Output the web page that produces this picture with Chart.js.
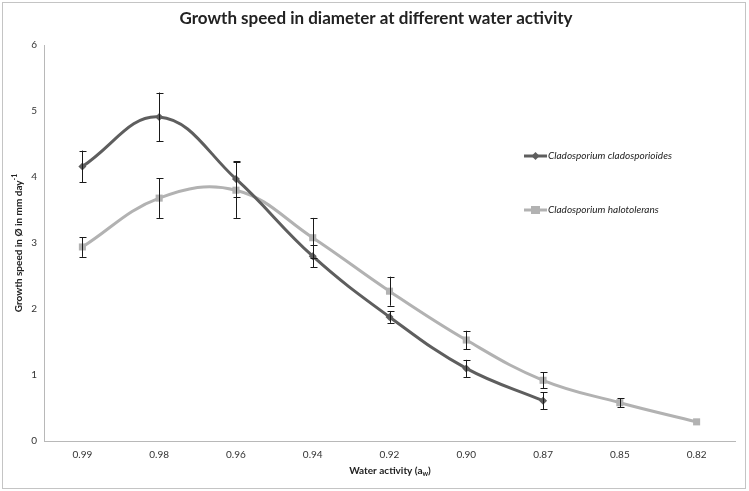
<!DOCTYPE html>
<html>
<head>
<meta charset="utf-8">
<script src="https://cdn.jsdelivr.net/npm/chart.js@4"></script>
<style>
  html, body { margin: 0; padding: 0; background: #fff; }
  #wrap { width: 749px; height: 491px; position: relative; }
</style>
</head>
<body>
<div id="wrap"><canvas id="growthChart" width="749" height="491"></canvas></div>
<script>
// categorie (attivita dell'acqua)
const waterActivity = ['0.99', '0.98', '0.96', '0.94', '0.92', '0.90', '0.87', '0.85', '0.82'];

// Cladosporium cladosporioides
const cladoValues = [4.16, 4.91, 3.97, 2.80, 1.88, 1.10, 0.61, null, null];
const cladoErrors = [0.24, 0.37, 0.27, 0.17, 0.09, 0.13, 0.13, null, null];

// Cladosporium halotolerans
const haloValues = [2.94, 3.68, 3.80, 3.08, 2.27, 1.53, 0.92, 0.58, 0.29];
const haloErrors = [0.15, 0.30, 0.42, 0.30, 0.22, 0.14, 0.12, 0.07, null];

const yTicks = [0, 1, 2, 3, 4, 5, 6];

const darkGrey = '#5e5e5e';
const lightGrey = '#b2b2b2';
const fontFam = 'Lato, "Open Sans", sans-serif';

// barre di errore disegnate con le scale del grafico
const errorBarPlugin = {
    id: 'errorBars',
    afterDatasetsDraw(chart) {
        const ctx = chart.ctx;
        const x = chart.scales.x;
        const y = chart.scales.y;
        const sets = [[cladoValues, cladoErrors], [haloValues, haloErrors]];
        ctx.save();
        ctx.strokeStyle = '#1a1a1a';
        ctx.lineWidth = 1;
        sets.forEach(function(s) {
            s[0].forEach(function(v, i) {
                const e = s[1][i];
                if (v === null || e === null) return;
                const px = Math.round(x.getPixelForValue(i)) + 0.5;
                const top = y.getPixelForValue(v + e);
                const bot = y.getPixelForValue(v - e);
                ctx.beginPath();
                ctx.moveTo(px, top); ctx.lineTo(px, bot);
                ctx.moveTo(px - 3, Math.round(top) + 0.5); ctx.lineTo(px + 4, Math.round(top) + 0.5);
                ctx.moveTo(px - 3, Math.round(bot) + 0.5); ctx.lineTo(px + 4, Math.round(bot) + 0.5);
                ctx.stroke();
            });
        });
        ctx.restore();
    }
};

// titolo, titoli degli assi, legenda e bordo
const decorPlugin = {
    id: 'decor',
    afterDraw(chart) {
        const ctx = chart.ctx;
        ctx.save();
        // bordo esterno
        ctx.strokeStyle = '#c4c4c4';
        ctx.lineWidth = 1;
        ctx.strokeRect(2.5, 2.5, 743, 486);

        // titolo
        ctx.fillStyle = '#222';
        ctx.font = 'bold 17px ' + fontFam;
        ctx.textAlign = 'center';
        ctx.textBaseline = 'middle';
        ctx.fillText('Growth speed in diameter at different water activity', 376, 19);

        // titolo asse x con pedice
        ctx.font = 'bold 10px ' + fontFam;
        ctx.textAlign = 'left';
        const t1 = 'Water activity (a';
        const w1 = ctx.measureText(t1).width;
        ctx.font = 'bold 7px ' + fontFam;
        const w2 = ctx.measureText('w').width;
        ctx.font = 'bold 10px ' + fontFam;
        const w3 = ctx.measureText(')').width;
        let sx = 390 - (w1 + w2 + w3) / 2;
        ctx.fillText(t1, sx, 471);
        ctx.font = 'bold 7px ' + fontFam;
        ctx.fillText('w', sx + w1, 474);
        ctx.font = 'bold 10px ' + fontFam;
        ctx.fillText(')', sx + w1 + w2, 471);

        // titolo asse y con apice
        ctx.translate(19, 243);
        ctx.rotate(-Math.PI / 2);
        const s1 = 'Growth speed in \u00d8 in mm day';
        const a1 = ctx.measureText(s1).width;
        ctx.font = 'bold 7px ' + fontFam;
        const a2 = ctx.measureText('-1').width;
        sx = -(a1 + a2) / 2;
        ctx.font = 'bold 10px ' + fontFam;
        ctx.fillText(s1, sx, 0);
        ctx.font = 'bold 7px ' + fontFam;
        ctx.fillText('-1', sx + a1, -4);
        ctx.setTransform(1, 0, 0, 1, 0, 0);

        // legenda
        const items = [
            { label: 'Cladosporium cladosporioides', color: darkGrey, y: 156, shape: 'diamond' },
            { label: 'Cladosporium halotolerans', color: lightGrey, y: 210, shape: 'square' }
        ];
        items.forEach(function(it) {
            ctx.strokeStyle = it.color;
            ctx.fillStyle = it.color;
            ctx.lineWidth = 3;
            ctx.beginPath();
            ctx.moveTo(524, it.y); ctx.lineTo(547, it.y);
            ctx.stroke();
            ctx.beginPath();
            if (it.shape === 'diamond') {
                ctx.moveTo(535.5, it.y - 4); ctx.lineTo(539.5, it.y);
                ctx.lineTo(535.5, it.y + 4); ctx.lineTo(531.5, it.y);
                ctx.closePath(); ctx.fill();
            } else {
                ctx.fillRect(531, it.y - 4, 9, 8);
            }
            ctx.fillStyle = '#222';
            ctx.font = 'italic 10px ' + fontFam;
            ctx.textAlign = 'left';
            ctx.textBaseline = 'middle';
            ctx.fillText(it.label, 548, it.y);
        });
        ctx.restore();
    }
};

const ctx = document.getElementById('growthChart').getContext('2d');

const growthChart = new Chart(ctx, {
    type: 'line',
    data: {
        labels: waterActivity,
        datasets: [{
            label: 'Cladosporium cladosporioides',
            data: cladoValues,
            borderColor: darkGrey,
            backgroundColor: darkGrey,
            borderWidth: 3,
            pointStyle: 'rectRot',
            pointRadius: 4,
            pointBorderWidth: 0,
            tension: 0.4
        }, {
            label: 'Cladosporium halotolerans',
            data: haloValues,
            borderColor: lightGrey,
            backgroundColor: lightGrey,
            borderWidth: 3,
            pointStyle: 'rect',
            pointRadius: 5,
            pointBorderWidth: 0,
            tension: 0.4
        }]
    },
    options: {
        responsive: false,
        animation: false,
        layout: { padding: { left: 0, right: 14, top: 45, bottom: 0 } },
        plugins: {
            legend: { display: false },
            title: { display: false },
            tooltip: { enabled: false }
        },
        scales: {
            x: {
                offset: true,
                grid: { display: false, drawTicks: false },
                border: { color: '#b8b8b8', width: 1 },
                ticks: { color: '#333', font: { family: fontFam, size: 10 }, padding: 8, maxRotation: 0 },
                afterFit: function(s) { s.height = 50; }
            },
            y: {
                min: 0,
                max: 6,
                afterBuildTicks: function(s) { s.ticks = yTicks.map(function(v) { return { value: v }; }); },
                grid: { display: false, drawTicks: false },
                border: { color: '#b8b8b8', width: 1 },
                ticks: { color: '#333', font: { family: fontFam, size: 10 }, padding: 7 },
                afterFit: function(s) { s.width = 44; }
            }
        }
    },
    plugins: [errorBarPlugin, decorPlugin]
});
</script>
</body>
</html>
